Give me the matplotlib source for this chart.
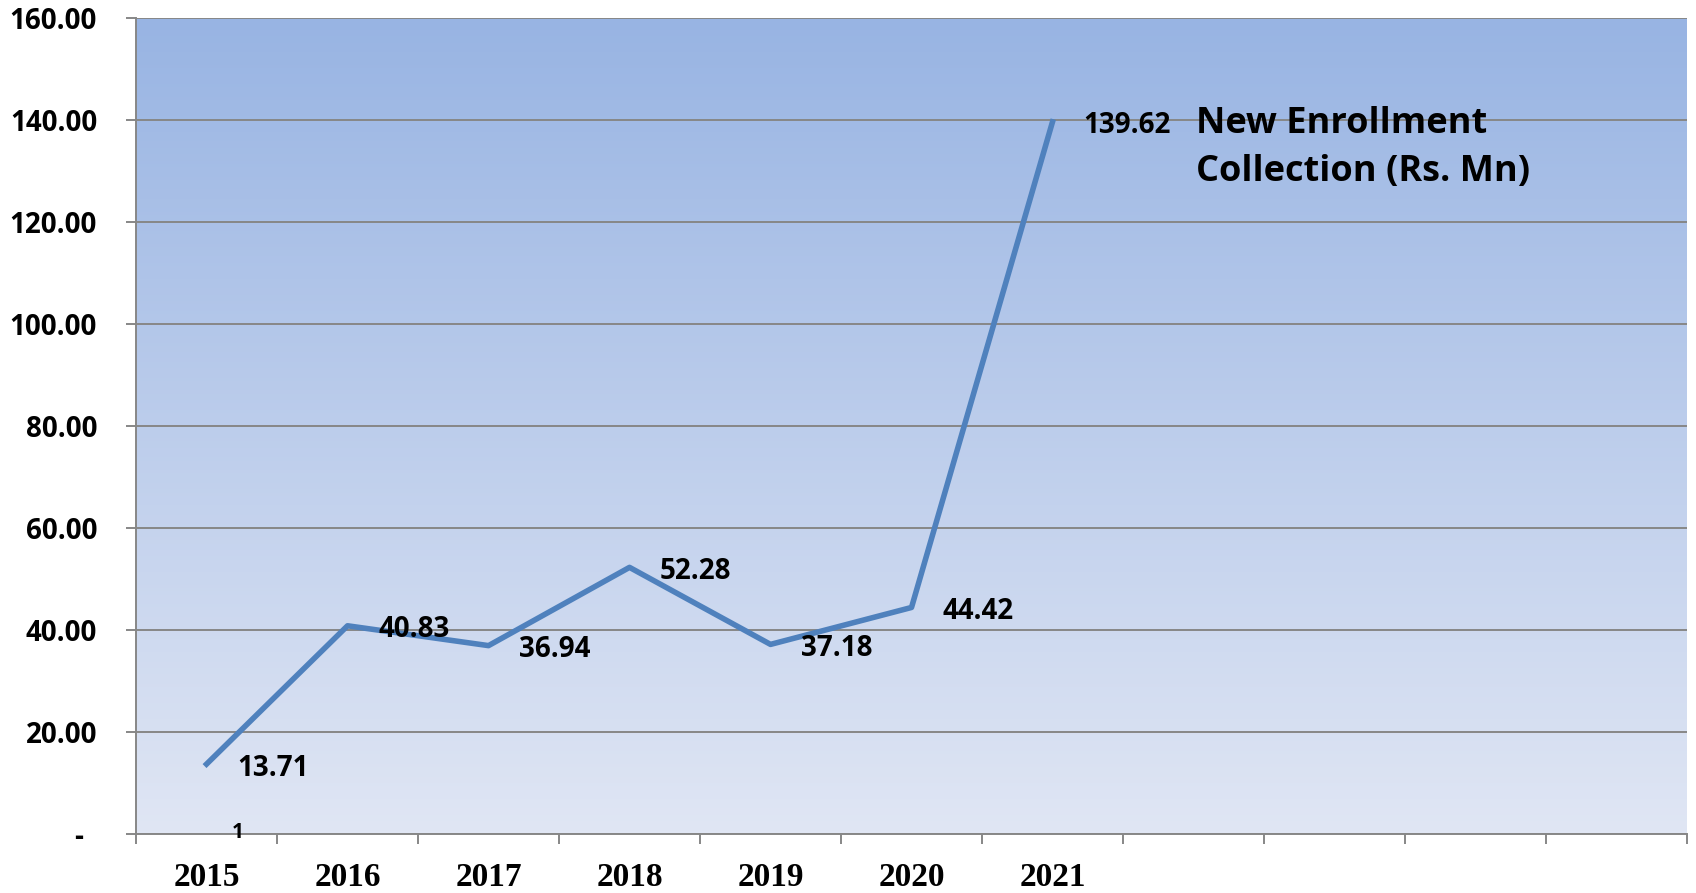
import numpy as np
import matplotlib.pyplot as plt
from matplotlib.transforms import ScaledTranslation
from matplotlib.colors import LinearSegmentedColormap

# Data
years = ['2015', '2016', '2017', '2018', '2019', '2020', '2021']
collection = [13.71, 40.83, 36.94, 52.28, 37.18, 44.42, 139.62]
n_slots = 11  # category axis has 11 slots, only 7 used
y_ticks = [0, 20, 40, 60, 80, 100, 120, 140, 160]
y_labels = ['-'] + ['%.2f' % v for v in y_ticks[1:]]

SANS = 'Open Sans'

fig = plt.figure(figsize=(16.96, 8.93), dpi=100)
ax = fig.add_axes([0.0802, 0.066, 0.9145, 0.914])

# gradient background (darker at the top)
cmap = LinearSegmentedColormap.from_list('bg', ['#98b4e3', '#e0e6f4'])
grad = np.linspace(0, 1, 256).reshape(-1, 1)
ax.imshow(grad, cmap=cmap, aspect='auto', origin='upper',
          extent=[0, n_slots, 0, 160], zorder=0)

x = np.arange(len(years)) + 0.5
ax.plot(x, collection, color='#4f81bd', lw=4, zorder=3)

ax.set_xlim(0, n_slots)
ax.set_ylim(0, 160)

# gridlines
ax.set_yticks(y_ticks)
ax.set_yticklabels(y_labels)
ax.yaxis.grid(True, color='#878787', lw=1.4)
for gl in ax.get_ygridlines():
    gl.set_zorder(1)

# x ticks: boundaries as major ticks, year labels centered in slots
ax.set_xticks(np.arange(n_slots + 1))
ax.set_xticklabels([])
ax.set_xticks(x, minor=True)
ax.set_xticklabels(years, minor=True, fontfamily='Liberation Serif',
                   fontweight='bold', fontsize=24)
ax.tick_params(axis='x', which='minor', length=0, pad=20)
ax.tick_params(axis='x', which='major', length=7, width=1.4, color='#878787')
ax.tick_params(axis='y', length=7, width=1.4, color='#878787', pad=21)
for lbl in ax.get_yticklabels():
    lbl.set_fontfamily(SANS)
    lbl.set_fontweight('bold')
    lbl.set_fontsize(20)
# shift the "-" label left like the accounting format
dash = ax.get_yticklabels()[0]
dash.set_transform(dash.get_transform() + ScaledTranslation(-0.14, 0, fig.dpi_scale_trans))

for s in ['top', 'right']:
    ax.spines[s].set_visible(False)
for s in ['left', 'bottom']:
    ax.spines[s].set_color('#878787')
    ax.spines[s].set_linewidth(1.4)

# data labels
for xi, v in zip(x, collection):
    ax.annotate('%.2f' % v, (xi, v), xytext=(22, -3), textcoords='offset points',
                ha='left', va='center', fontfamily=SANS, fontweight='bold',
                fontsize=20, zorder=4)

# stray label near the axis
ax.annotate('1', (x[0], 0), xytext=(18, 1), textcoords='offset points',
            ha='left', va='center', fontfamily=SANS, fontweight='bold',
            fontsize=15, zorder=4, annotation_clip=False)

# series title
ax.text(1196 / 1696, 1 - 148 / 893, 'New Enrollment\nCollection (Rs. Mn)',
        transform=fig.transFigure, ha='left', va='center',
        fontfamily=SANS, fontweight='bold', fontsize=26, linespacing=1.45)

fig.savefig('out.png', dpi=100)
